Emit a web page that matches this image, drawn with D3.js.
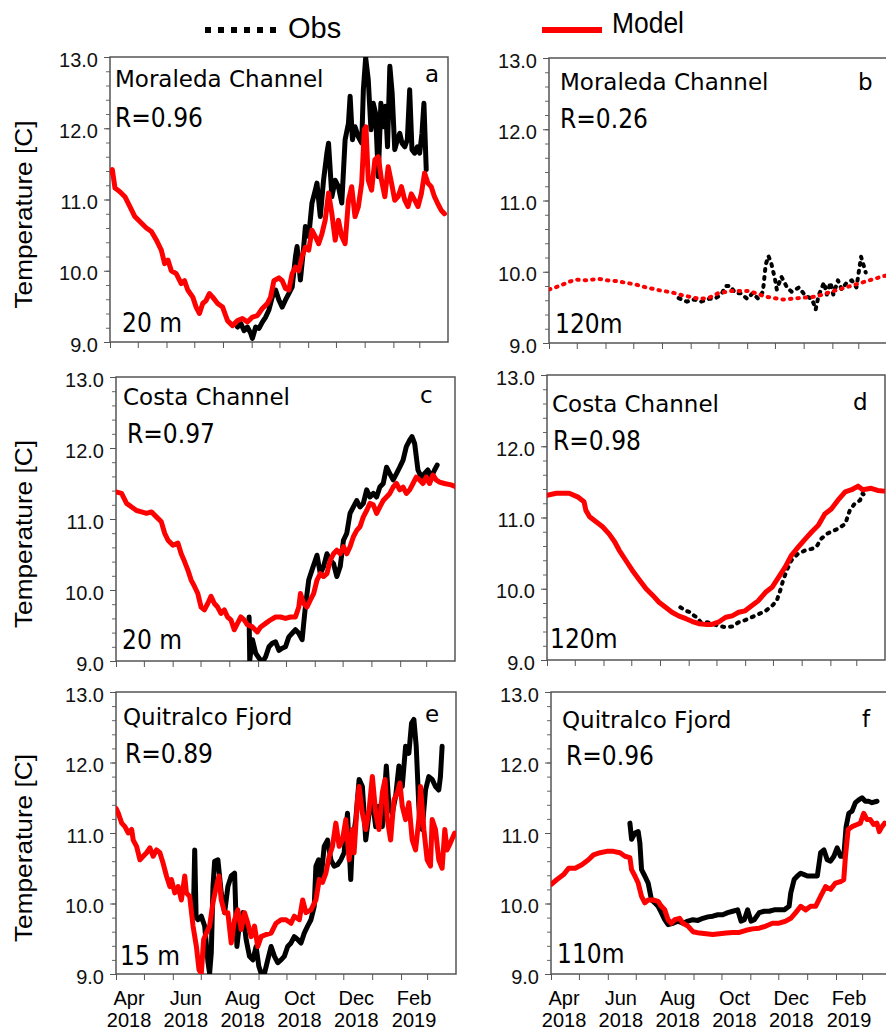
<!DOCTYPE html>
<html>
<head>
<meta charset="utf-8">
<script src="https://cdn.jsdelivr.net/npm/d3@7"></script>
<style>
  body { margin: 0; background: #fff; }
  svg { display: block; }
</style>
</head>
<body>
<svg width="886" height="1030"></svg>
<script>
// days since 1 Apr 2018, temperature [C]
const moraledaModel20 = [[0,11.38],[2.5,11.42],[5.4,11.16],[10.7,11.11],[16.1,11.04],[21.5,10.9],[26.8,10.76],[32.2,10.69],[39.3,10.6],[44.7,10.55],[50.1,10.43],[55.4,10.29],[59,10.1],[62.6,10.15],[66.2,10.0],[71.5,9.96],[76.9,9.82],[80.5,9.86],[84,9.73],[89.4,9.63],[93,9.49],[96.6,9.4],[100.1,9.54],[103.7,9.58],[107.3,9.68],[110.9,9.63],[116.2,9.54],[121.6,9.49],[126.9,9.3],[132.3,9.23],[137.7,9.3],[143,9.33],[148.4,9.28],[153.8,9.35],[159.1,9.37],[164.5,9.47],[169.9,9.54],[173.4,9.63],[177,9.86],[182.4,9.9],[186,9.86],[189.5,9.75],[193.1,9.73],[196.7,9.96],[200.3,10.05],[203.8,10.0],[207.4,10.2],[211,10.33],[214.6,10.29],[218.1,10.57],[221.7,10.48],[225.3,10.38],[228.9,10.52],[232.4,10.71],[236,11.09],[239.6,10.8],[243.2,10.43],[246.7,10.71],[250.3,10.48],[253.9,10.38],[257.5,10.99],[261,11.18],[264.6,10.76],[268.2,10.9],[271.8,11.23],[274.6,11.98],[276.4,12.02],[278.9,11.27],[282.5,11.13],[286.1,11.56],[289.7,11.6],[293.2,11.27],[296.8,11.04],[300.4,11.46],[304,11.23],[307.5,10.99],[311.1,11.04],[314.7,11.18],[318.3,10.99],[321.8,10.9],[325.4,11.08],[329,10.99],[332.6,10.9],[336.2,11.08],[339.7,11.37],[343.3,11.23],[346.9,11.18],[350.4,11.04],[354,10.94],[357.6,10.85],[361.2,10.8]];
const moraledaObs20 = [[137.7,9.21],[141.3,9.26],[144.8,9.16],[148.4,9.21],[152,9.12],[153.8,9.05],[157.3,9.21],[160.9,9.19],[164.5,9.28],[168.1,9.35],[171.6,9.45],[175.2,9.63],[178.8,9.73],[182.4,9.59],[186,9.49],[189.5,9.59],[193.1,9.68],[196.7,9.77],[200.3,10.2],[202,10.34],[205.6,9.87],[209.2,10.34],[211,10.62],[214.6,10.48],[218.1,10.95],[221.7,11.13],[223.5,11.23],[227.1,10.76],[230.6,11.27],[234.2,11.65],[236,11.79],[239.6,11.04],[243.2,11.27],[246.7,11.18],[250.3,10.95],[253.9,11.84],[257.5,12.07],[259.3,12.45],[261.8,11.84],[264.6,12.02],[268.2,11.88],[271.8,11.79],[273.6,12.54],[276.1,12.99],[278.9,12.68],[281.8,11.98],[284.3,12.35],[286.8,12.21],[289.7,11.32],[292.5,12.35],[295,12.02],[297.5,12.31],[299.7,11.74],[302.2,12.87],[304.7,12.49],[307.5,11.7],[310.4,11.84],[312.9,11.93],[315.4,11.79],[318.3,11.74],[321.1,11.84],[323.6,12.54],[326.1,11.7],[329,11.65],[331.9,11.74],[334.4,11.65],[336.9,11.93],[339,12.35],[341.5,11.42]];

const moraledaModel120 = [[0,9.75],[11,9.8],[22,9.86],[29,9.89],[40,9.88],[54,9.9],[63,9.88],[72,9.87],[94,9.82],[105,9.78],[119,9.74],[133,9.71],[144,9.67],[155,9.64],[162,9.62],[172,9.63],[183,9.7],[197,9.73],[216,9.73],[234,9.65],[253,9.61],[270,9.63],[288,9.65],[305,9.72],[323,9.79],[341,9.86],[359,9.93],[365,9.95]];
const moraledaObs120 = [[140,9.63],[149,9.58],[157,9.61],[164,9.58],[173,9.62],[179,9.62],[186,9.68],[191,9.8],[196,9.8],[201,9.7],[207,9.7],[214,9.62],[220,9.7],[226,9.62],[231,9.72],[234,10.1],[237,10.22],[240,10.12],[244,9.9],[246,9.75],[251,9.93],[257,9.78],[262,9.72],[270,9.78],[277,9.66],[284,9.62],[288,9.47],[291,9.66],[297,9.85],[300,9.68],[304,9.85],[307,9.68],[312,9.88],[316,9.75],[321,9.84],[327,9.88],[332,9.78],[337,10.21],[342,9.99]];

const costaModel20 = [[0,11.38],[6,11.36],[11.4,11.22],[16.8,11.17],[22.1,11.12],[27.5,11.1],[32.8,11.08],[38.1,11.1],[43.5,11.03],[48.8,10.96],[52.4,10.8],[56,10.7],[61.3,10.63],[66.7,10.66],[70.2,10.51],[73.8,10.4],[77.4,10.28],[80.9,10.14],[84.5,10.05],[88.1,9.95],[91.6,9.76],[95.2,9.72],[98.8,9.81],[102.3,9.91],[105.9,9.81],[109.4,9.76],[113,9.67],[116.6,9.72],[120.1,9.62],[123.7,9.58],[127.3,9.44],[130.8,9.53],[134.4,9.62],[138,9.58],[141.5,9.51],[146.9,9.48],[152.2,9.41],[155.8,9.48],[161.1,9.53],[166.5,9.58],[171.8,9.62],[177.2,9.62],[182.5,9.6],[187.9,9.62],[193.2,9.62],[196.8,9.76],[198.6,9.95],[202.1,9.81],[205.7,9.76],[209.3,9.86],[212.8,9.95],[216.4,10.14],[220,10.23],[223.5,10.19],[227.1,10.23],[230.7,10.42],[234.2,10.51],[237.8,10.56],[241.4,10.51],[244.9,10.61],[248.5,10.51],[252,10.61],[255.6,10.75],[259.2,10.84],[262.7,10.89],[266.3,11.03],[269.9,11.12],[273.4,11.22],[277,11.2],[280.6,11.08],[284.1,11.17],[287.7,11.26],[291.3,11.31],[294.8,11.36],[298.4,11.45],[302,11.5],[305.5,11.41],[309.1,11.45],[312.6,11.36],[316.2,11.41],[319.8,11.5],[323.3,11.59],[326.9,11.55],[330.5,11.5],[334,11.59],[337.6,11.5],[341.2,11.62],[344.7,11.55],[348.3,11.52],[353.6,11.5],[360.8,11.48],[365,11.46]];
const costaObs20 = [[143.3,9.62],[144,9.01],[146.9,9.3],[150.4,9.11],[154,9.04],[157.6,8.98],[161.1,9.06],[164.7,9.2],[168.3,9.25],[171.8,9.27],[175.4,9.15],[179,9.18],[182.5,9.2],[186.1,9.34],[189.7,9.39],[193.2,9.44],[196.8,9.39],[200.4,9.3],[202.1,9.53],[203.9,9.76],[207.5,10.14],[211,10.28],[214.6,10.42],[216.4,10.49],[220,10.23],[223.5,10.33],[227.1,10.51],[230.7,10.42],[234.2,10.37],[237.8,10.19],[241.4,10.33],[244.9,10.7],[248.5,10.8],[252,11.08],[255.6,11.17],[259.2,11.26],[262.7,11.17],[266.3,11.22],[269.9,11.41],[273.4,11.31],[277,11.36],[280.6,11.31],[284.1,11.45],[287.7,11.5],[291.3,11.73],[294.8,11.64],[298.4,11.55],[302,11.64],[305.5,11.73],[309.1,11.83],[312.6,12.02],[316.2,12.11],[318.7,12.16],[321.6,12.06],[325.1,11.69],[328.7,11.59],[332.3,11.64],[335.8,11.69],[339.4,11.59],[343,11.69],[345.8,11.76]];

const costaModel120 = [[0,11.31],[10,11.34],[24,11.34],[33,11.29],[40,11.22],[42,11.1],[46,11.01],[53,10.94],[60,10.87],[67,10.77],[73,10.66],[78,10.54],[85,10.4],[92,10.26],[100,10.12],[107,10.0],[114,9.91],[121,9.81],[128,9.74],[135,9.67],[142,9.62],[150,9.58],[157,9.54],[164,9.51],[171,9.5],[178,9.5],[185,9.53],[193,9.6],[200,9.62],[207,9.67],[214,9.69],[221,9.76],[228,9.83],[236,9.95],[243,10.02],[250,10.16],[257,10.3],[264,10.47],[271,10.58],[279,10.7],[286,10.8],[293,10.89],[300,11.05],[307,11.12],[314,11.24],[322,11.36],[329,11.39],[336,11.44],[341,11.39],[350,11.41],[357,11.38],[364,11.37]];
const costaObs120 = [[144,9.74],[150,9.69],[155,9.67],[159,9.62],[162,9.6],[166,9.53],[173,9.53],[178,9.51],[185,9.48],[193,9.46],[200,9.47],[207,9.53],[214,9.56],[221,9.6],[228,9.64],[236,9.69],[243,9.76],[248,9.83],[252,9.98],[255,10.12],[259,10.26],[264,10.4],[271,10.49],[279,10.54],[286,10.56],[291,10.59],[296,10.7],[302,10.77],[307,10.8],[314,10.84],[322,10.91],[327,11.1],[332,11.19],[338,11.24],[341,11.34],[345,11.26]];

const quitralcoModel15 = [[0,11.35],[2.5,11.28],[6.1,11.14],[9.6,11.09],[13.2,11.0],[16.8,11.05],[18.5,10.9],[22.1,10.81],[25.7,10.62],[29.2,10.67],[32.8,10.72],[36.4,10.79],[39.9,10.67],[43.5,10.76],[47.1,10.72],[50.6,10.57],[54.2,10.39],[57.8,10.24],[59.5,10.34],[63.1,10.15],[66.7,10.24],[70.2,10.05],[73.8,10.39],[75.6,10.15],[79.1,10.1],[82.7,9.68],[86.3,9.39],[89.1,9.06],[91.6,9.01],[94.1,9.49],[97,9.58],[100.5,9.68],[104.1,10.01],[107.7,10.24],[110.5,10.39],[113,10.05],[116.6,9.87],[120.1,9.87],[123.7,9.44],[127.3,9.77],[130.8,9.91],[134.4,9.63],[138,9.87],[141.5,9.72],[145.1,9.53],[148.7,9.68],[152.2,9.39],[155.8,9.53],[161.1,9.56],[166.5,9.58],[171.8,9.72],[177.2,9.77],[182.5,9.77],[187.9,9.72],[191.4,9.82],[196.8,9.77],[200.4,10.05],[203.9,9.87],[209.3,9.91],[214.6,10.05],[218.2,10.34],[221.7,10.3],[225.3,10.43],[228.9,10.67],[232.4,10.81],[236,11.14],[239.6,10.81],[243.1,10.9],[246.7,11.19],[250.3,10.62],[253.8,11.05],[255.6,10.72],[259.2,11.47],[261,11.66],[264.5,11.28],[268.1,11.05],[271.7,11.33],[275.2,11.8],[278.8,11.28],[282.3,11.05],[285.9,11.57],[288.8,11.76],[291.3,11.19],[294.8,10.9],[298.4,11.47],[302,11.57],[304.8,11.71],[307.3,11.38],[310.9,11.19],[314.4,11.43],[318,10.9],[321.6,10.76],[325.1,11.19],[326.9,11.66],[330.5,11.05],[334,10.62],[337.6,10.53],[339.4,11.19],[343,11.05],[346.5,10.62],[350.1,10.5],[353,11.05],[355.4,10.76],[359,10.86],[363.6,11.0]];
const quitralcoObs15 = [[83,9.8],[84.5,10.76],[86,9.8],[88.1,9.77],[91.6,9.82],[95.2,9.68],[98.8,9.16],[100.5,9.01],[102.3,9.3],[104.1,10.24],[105.9,10.6],[109.4,10.62],[113,10.15],[116.6,9.87],[120.1,10.24],[123.7,10.39],[127.3,10.43],[129.8,9.39],[132.6,9.72],[136.2,9.87],[139.7,9.49],[143.3,9.25],[146.9,9.2],[150.4,9.39],[153.3,9.11],[155.8,9.01],[159.4,9.01],[162.9,9.2],[166.5,9.39],[170.1,9.25],[173.6,9.16],[177.2,9.2],[180.7,9.25],[184.3,9.39],[187.9,9.44],[191.4,9.53],[195,9.49],[198.6,9.44],[202.1,9.58],[205.7,9.68],[209.3,9.77],[212.8,9.96],[214.6,10.53],[217.5,10.62],[220,10.34],[223.5,10.81],[227.1,10.9],[230.7,10.62],[234.2,10.53],[237.8,10.55],[241.4,10.62],[244.9,10.72],[248.5,11.28],[252,10.34],[253.8,10.86],[257.4,11.19],[261,11.76],[264.5,11.66],[268.1,10.9],[271.7,11.28],[275.2,11.47],[278.8,11.09],[282.3,11.38],[285.9,11.09],[290.2,11.95],[293,11.38],[296.6,11.28],[300.2,11.52],[303.7,11.95],[307.3,11.66],[310.9,12.23],[314.4,12.13],[317.3,12.56],[319.8,12.61],[322.3,12.23],[325.1,11.38],[326.9,11.09],[328.7,11.05],[332.3,11.61],[335.8,11.8],[339.4,11.76],[343,11.66],[346.5,11.61],[348.3,11.8],[350.1,12.23]];

const quitralcoModel110 = [[0,10.27],[6.4,10.34],[13.5,10.41],[18.9,10.5],[26,10.5],[33.1,10.55],[40.2,10.62],[45.6,10.69],[52.7,10.72],[59.8,10.74],[66.9,10.74],[74,10.72],[79.4,10.67],[84.7,10.65],[86.5,10.48],[90.1,10.39],[93.6,10.29],[97.2,10.1],[100.7,10.01],[104.3,10.05],[109.6,10.05],[115,10.03],[118.5,9.96],[122.1,9.91],[125.7,9.77],[129.2,9.72],[132.8,9.77],[138.1,9.79],[141.7,9.72],[147,9.68],[152.4,9.6],[159.5,9.58],[166.6,9.57],[173.7,9.56],[180.8,9.57],[188,9.58],[195.1,9.59],[202.2,9.59],[209.3,9.62],[216.4,9.64],[223.6,9.65],[230.7,9.68],[237.8,9.72],[244.9,9.72],[252,9.75],[257.4,9.79],[262.7,9.87],[268.1,9.96],[273.4,9.91],[278.7,9.96],[284.1,9.96],[289.4,10.1],[294.8,10.24],[300.1,10.2],[305.4,10.29],[310.8,10.31],[314.3,10.34],[316.1,10.67],[319,11.05],[323.2,11.09],[328.6,11.12],[332.1,11.14],[335.7,11.28],[339.3,11.19],[342.8,11.19],[346.4,11.12],[349.9,11.14],[352.4,11.02],[355.3,11.09],[358.1,11.14]];
const quitralcoObs110 = [[84.7,11.14],[86.5,10.91],[90.1,11.0],[93.6,11.02],[95.4,10.86],[97.2,10.48],[100.7,10.39],[104.3,10.29],[107.9,10.05],[111.4,10.01],[115,9.96],[118.5,9.87],[122.1,9.77],[125.7,9.7],[131,9.72],[136.3,9.75],[141.7,9.72],[147,9.75],[152.4,9.77],[157.7,9.76],[163,9.79],[168.4,9.81],[173.7,9.82],[179.1,9.84],[184.4,9.84],[189.7,9.87],[195.1,9.89],[200.4,9.91],[204,9.75],[207.5,9.77],[211.1,9.91],[214.7,9.75],[218.2,9.77],[223.6,9.87],[228.9,9.89],[234.2,9.89],[239.6,9.91],[244.9,9.91],[250.3,9.91],[255.6,9.96],[257.4,10.15],[261,10.34],[264.5,10.39],[268.1,10.43],[271.7,10.41],[275.2,10.39],[278.7,10.39],[282.3,10.39],[285.9,10.39],[289.4,10.72],[293,10.76],[296.5,10.62],[300.1,10.6],[303.7,10.67],[307.2,10.79],[310.8,10.67],[314.3,10.67],[316.8,11.09],[319.7,11.28],[323.2,11.31],[326.8,11.43],[330.4,11.47],[333.9,11.5],[337.5,11.45],[341,11.45],[344.6,11.43],[350,11.45]];

const panelLetters = ['a', 'b', 'c', 'd', 'e', 'f'];
const siteNames = ['Moraleda Channel', 'Moraleda Channel', 'Costa Channel', 'Costa Channel', 'Quitralco Fjord', 'Quitralco Fjord'];
const rValues = ['R=0.96', 'R=0.26', 'R=0.97', 'R=0.98', 'R=0.89', 'R=0.96'];
const depths = ['20 m', '120m', '20 m', '120m', '15 m', '110m'];
const obsSeries = [moraledaObs20, moraledaObs120, costaObs20, costaObs120, quitralcoObs15, quitralcoObs110];
const modelSeries = [moraledaModel20, moraledaModel120, costaModel20, costaModel120, quitralcoModel15, quitralcoModel110];
const tempTicks = [9, 10, 11, 12, 13];
const monthLabels = ['Apr', 'Jun', 'Aug', 'Oct', 'Dec', 'Feb'];
const yearLabels = ['2018', '2018', '2018', '2018', '2018', '2019'];

// panel boxes and text spots (page px)
const layout = [
  {x: 110, y: 57,  w: 338, h: 285, site: [115, 87],  r: [115, 127], depth: [122, 332], letter: [425, 82]},
  {x: 549, y: 58,  w: 338, h: 285, site: [560, 90],  r: [560, 128], depth: [555, 333], letter: [858, 90]},
  {x: 116, y: 377, w: 339, h: 284, site: [123, 405], r: [127, 443], depth: [122, 649], letter: [420, 403]},
  {x: 547, y: 375, w: 338, h: 285, site: [552, 412], r: [553, 450], depth: [550, 648], letter: [853, 410]},
  {x: 116, y: 692, w: 340, h: 282, site: [123, 725], r: [125, 763], depth: [120, 965], letter: [425, 722]},
  {x: 551, y: 692, w: 340, h: 282, site: [562, 728], r: [566, 765], depth: [557, 963], letter: [862, 727]}
];
// dash patterns: panel b has both dotted, panel d only obs dotted
const obsDash = [null, '2,6', null, '2,6', null, null];
const modelDash = [null, '1.5,6', null, null, null, null];

const svg = d3.select('svg');
const start = new Date(2018, 3, 1);
const toDate = d => new Date(start.getTime() + d * 864e5);
const labelFont = '"DejaVu Sans", sans-serif';
const condFont = '"DejaVu Sans Condensed", "DejaVu Sans", sans-serif';
const axisFont = '"Liberation Sans", Arial, sans-serif';

// legend
svg.append('line')
    .attr('x1', 205).attr('x2', 279).attr('y1', 30).attr('y2', 30)
    .attr('stroke', '#000').attr('stroke-width', 6)
    .attr('stroke-dasharray', '6,7');
svg.append('text').attr('x', 288).attr('y', 38)
    .style('font', `29px ${axisFont}`)
    .text('Obs');
svg.append('line')
    .attr('x1', 542).attr('x2', 602).attr('y1', 30).attr('y2', 30)
    .attr('stroke', '#ff0000').attr('stroke-width', 6);
svg.append('text').attr('x', 612).attr('y', 33)
    .attr('textLength', 72).attr('lengthAdjust', 'spacingAndGlyphs')
    .style('font', `29px ${axisFont}`)
    .text('Model');

layout.forEach((p, i) => {
    const x = d3.scaleTime()
        .domain([start, new Date(2019, 3, 1)])
        .range([0, p.w]);
    const y = d3.scaleLinear().domain([9, 13]).range([p.h, 0]);

    const g = svg.append('g').attr('transform', `translate(${p.x},${p.y})`);

    g.append('clipPath').attr('id', 'clip' + i)
      .append('rect').attr('width', p.w).attr('height', p.h);

    // minor y ticks
    g.append('g')
        .call(d3.axisLeft(y).tickValues(d3.range(9, 13.01, 0.2)).tickSize(4).tickFormat(''))
        .call(a => a.select('.domain').remove())
        .selectAll('line').attr('stroke', '#666');

    // major y ticks
    g.append('g')
        .call(d3.axisLeft(y).tickValues(tempTicks).tickSize(6).tickPadding(6).tickFormat(d3.format('.1f')))
        .call(a => a.select('.domain').remove())
        .call(a => a.selectAll('line').attr('stroke', '#555'))
        .selectAll('text')
        .attr('dy', '0.45em')
        .style('font', `20px ${axisFont}`)
        .attr('fill', '#111');

    // month ticks
    g.append('g')
        .attr('transform', `translate(0,${p.h})`)
        .call(d3.axisBottom(x)
            .tickValues(d3.timeMonth.range(start, new Date(2019, 2, 2)))
            .tickSize(6).tickFormat(''))
        .call(a => a.select('.domain').remove())
        .selectAll('line').attr('stroke', '#555');

    // frame
    g.append('rect')
        .attr('width', p.w).attr('height', p.h)
        .attr('fill', 'none').attr('stroke', '#555').attr('stroke-width', 1.5);

    const line = d3.line()
        .x(d => x(toDate(d[0])))
        .y(d => y(d[1]));

    const plot = g.append('g').attr('clip-path', `url(#clip${i})`);

    plot.append('path')
        .datum(obsSeries[i])
        .attr('d', line)
        .attr('fill', 'none')
        .attr('stroke', '#000')
        .attr('stroke-width', obsDash[i] ? 4 : 5)
        .attr('stroke-linejoin', 'round')
        .attr('stroke-linecap', 'round')
        .attr('stroke-dasharray', obsDash[i]);

    plot.append('path')
        .datum(modelSeries[i])
        .attr('d', line)
        .attr('fill', 'none')
        .attr('stroke', '#ff0000')
        .attr('stroke-width', modelDash[i] ? 4 : 5)
        .attr('stroke-linejoin', 'round')
        .attr('stroke-linecap', 'round')
        .attr('stroke-dasharray', modelDash[i]);

    // texts
    svg.append('text').attr('x', p.site[0]).attr('y', p.site[1])
        .style('font', `23px ${labelFont}`).text(siteNames[i]);
    svg.append('text').attr('x', p.r[0]).attr('y', p.r[1])
        .style('font', `26px ${condFont}`).style('font-stretch', 'condensed')
        .text(rValues[i]);
    svg.append('text').attr('x', p.depth[0]).attr('y', p.depth[1])
        .style('font', `26px ${condFont}`).style('font-stretch', 'condensed')
        .text(depths[i]);
    svg.append('text').attr('x', p.letter[0]).attr('y', p.letter[1])
        .style('font', `23px ${labelFont}`).text(panelLetters[i]);

    // y label on left column
    if (i % 2 === 0) {
        const cy = p.y + p.h / 2 + 15;
        svg.append('text')
            .attr('transform', `translate(32,${cy}) rotate(-90)`)
            .attr('text-anchor', 'middle')
            .attr('textLength', 188).attr('lengthAdjust', 'spacingAndGlyphs')
            .style('font', `24px ${axisFont}`)
            .text('Temperature [C]');
    }

    // month labels on bottom row
    if (i >= 4) {
        const lab = g.append('g').attr('transform', `translate(0,${p.h})`);
        monthLabels.forEach((m, k) => {
            const cx = x(new Date(2018, 3 + 2 * k, 15));
            const t = lab.append('text')
                .attr('text-anchor', 'middle')
                .style('font', `20px ${axisFont}`);
            t.append('tspan').attr('x', cx).attr('y', 31).text(m);
            t.append('tspan').attr('x', cx).attr('y', 53).text(yearLabels[k]);
        });
    }
});
</script>
</body>
</html>
